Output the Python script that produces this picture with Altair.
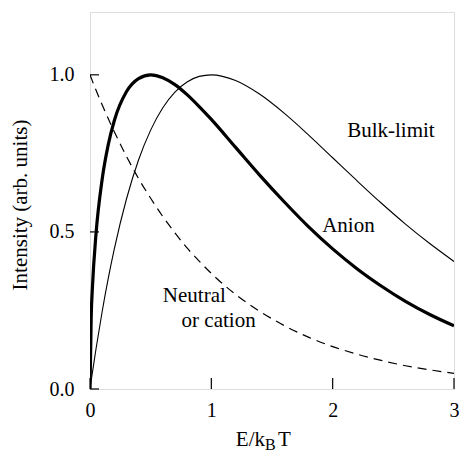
import altair as alt
import pandas as pd

# Energy grid (E / k_B T) and the three normalised intensity curves
energy = [0, 0.01, 0.02, 0.05, 0.1, 0.15, 0.2, 0.3, 0.4, 0.5, 0.6, 0.7, 0.8, 0.9,
          1.0, 1.2, 1.4, 1.6, 1.8, 2.0, 2.2, 2.4, 2.6, 2.8, 3.0]
anion = [0, 0.231, 0.323, 0.496, 0.667, 0.777, 0.854, 0.946, 0.988, 1.0, 0.991,
         0.969, 0.937, 0.899, 0.858, 0.769, 0.680, 0.596, 0.517, 0.446, 0.383,
         0.328, 0.279, 0.237, 0.201]
bulk = [0, 0.027, 0.053, 0.129, 0.246, 0.351, 0.445, 0.604, 0.729, 0.824, 0.895,
        0.945, 0.977, 0.995, 1.0, 0.982, 0.938, 0.878, 0.809, 0.736, 0.663,
        0.592, 0.525, 0.463, 0.406]
neutral = [1.0, 0.990, 0.980, 0.951, 0.905, 0.861, 0.819, 0.741, 0.670, 0.607,
           0.549, 0.497, 0.449, 0.407, 0.368, 0.301, 0.247, 0.202, 0.165, 0.135,
           0.111, 0.091, 0.074, 0.061, 0.050]

x_ticks = [0, 1, 2, 3]
y_ticks = [0, 0.5, 1.0]

curve_labels = ["Bulk-limit", "Anion", "Neutral", "or cation"]
label_x = [2.48, 2.13, 0.86, 1.06]
label_y = [0.802, 0.50, 0.278, 0.198]

FONT = "Times New Roman, Liberation Serif, DejaVu Serif, serif"
W, H = 364, 377

df = pd.DataFrame({"E": energy, "anion": anion, "bulk": bulk, "neutral": neutral})
labels_df = pd.DataFrame({"text": curve_labels, "x": label_x, "y": label_y})
xt_df = pd.DataFrame({"t": x_ticks})
yt_df = pd.DataFrame({"t": y_ticks})

xs = alt.Scale(domain=[0, 3], nice=False)
ys = alt.Scale(domain=[0, 1.2], nice=False)

x_axis = alt.Axis(values=x_ticks, format="d", ticks=False, domain=False, grid=False,
                  labelFont=FONT, labelFontSize=20, labelPadding=11,
                  labelFlush=False, labelOverlap=False, labelColor="black", title=None)
y_axis = alt.Axis(values=y_ticks, format=".1f", ticks=False, domain=False, grid=False,
                  labelFont=FONT, labelFontSize=20, labelPadding=16,
                  labelFlush=False, labelOverlap=False, labelColor="black",
                  title="Intensity (arb. units)", titleFont=FONT, titleFontSize=21,
                  titleFontWeight="normal", titleColor="black",
                  titleX=-70, titleY=H / 2 + 4, titleAlign="center",
                  titleBaseline="middle", titleAngle=-90)

base = alt.Chart(df)


def curve(col, width, dash=None):
    kw = dict(color="black", strokeWidth=width, interpolate="monotone", clip=True)
    if dash:
        kw["strokeDash"] = dash
    return base.mark_line(**kw).encode(
        x=alt.X("E:Q", scale=xs, axis=x_axis),
        y=alt.Y(f"{col}:Q", scale=ys, axis=y_axis),
    )


bulk_line = curve("bulk", 1.1)
anion_line = curve("anion", 3.2)
neutral_line = curve("neutral", 1.2, [9, 6])

# inward ticks on the bottom and left edges
x_tick_marks = alt.Chart(xt_df).mark_rule(color="black", strokeWidth=1.2).encode(
    x=alt.X("t:Q", scale=xs), y=alt.value(H), y2=alt.value(H - 11)
)
y_tick_marks = alt.Chart(yt_df).mark_rule(color="black", strokeWidth=1.2).encode(
    y=alt.Y("t:Q", scale=ys), x=alt.value(0), x2=alt.value(9)
)

text_marks = alt.Chart(labels_df).mark_text(
    font=FONT, fontSize=21, color="black", align="center", baseline="alphabetic"
).encode(
    x=alt.X("x:Q", scale=xs), y=alt.Y("y:Q", scale=ys), text="text:N"
)

# x-axis title E/k_B T with a subscript B
title_y = 434
t1 = alt.Chart(pd.DataFrame({"s": ["E/k"]})).mark_text(
    font=FONT, fontSize=21, color="black", align="right", baseline="alphabetic"
).encode(x=alt.value(175), y=alt.value(title_y), text="s:N")
t2 = alt.Chart(pd.DataFrame({"s": ["B"]})).mark_text(
    font=FONT, fontSize=16, color="black", align="left", baseline="alphabetic"
).encode(x=alt.value(175), y=alt.value(title_y + 4), text="s:N")
t3 = alt.Chart(pd.DataFrame({"s": ["T"]})).mark_text(
    font=FONT, fontSize=21, color="black", align="left", baseline="alphabetic"
).encode(x=alt.value(188), y=alt.value(title_y), text="s:N")

chart = alt.layer(
    bulk_line, anion_line, neutral_line, x_tick_marks, y_tick_marks,
    text_marks, t1, t2, t3
).properties(
    width=W, height=H,
    autosize=alt.AutoSizeParams(type="none"),
    padding={"left": 90, "top": 12, "right": 6, "bottom": 63},
).configure_view(
    stroke="black", strokeWidth=1.5
).configure(background="white")

chart.save("out.html", embed_options={"renderer": "svg", "actions": False})
